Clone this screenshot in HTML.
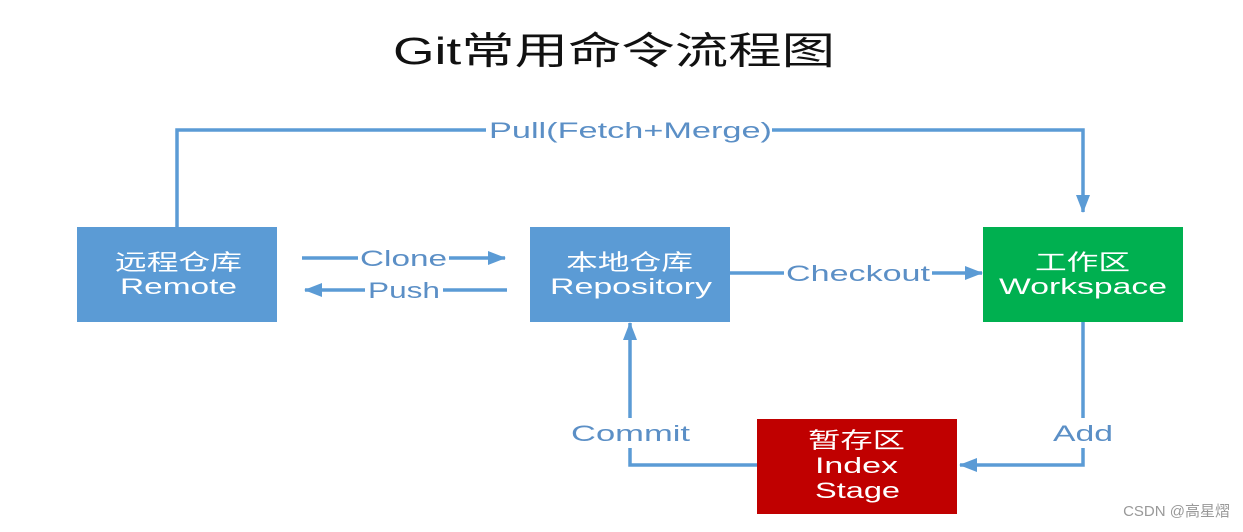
<!DOCTYPE html>
<html><head><meta charset="utf-8"><style>
body{margin:0;background:#fff;}
svg text{font-family:"Liberation Sans","Noto Sans CJK SC",sans-serif;}
</style></head><body>
<svg width="1243" height="527" viewBox="0 0 1243 527" xmlns="http://www.w3.org/2000/svg">
<defs><marker id="b" markerWidth="18" markerHeight="14" refX="17" refY="7" orient="auto" markerUnits="userSpaceOnUse"><path d="M0,0 L18,7 L0,14 Z" fill="#5b9bd5"/></marker></defs>
<text x="393" y="64" font-size="38" textLength="442" lengthAdjust="spacingAndGlyphs" fill="#111">Git常用命令流程图</text>
<g stroke="#5b9bd5" stroke-width="3.5" fill="none">
<polyline points="177,227 177,130 1083,130 1083,212" marker-end="url(#b)"/>
<line x1="302" y1="258" x2="505" y2="258" marker-end="url(#b)"/>
<line x1="507" y1="290" x2="305" y2="290" marker-end="url(#b)"/>
<line x1="730" y1="273" x2="982" y2="273" marker-end="url(#b)"/>
<polyline points="1083,321 1083,465 960,465" marker-end="url(#b)"/>
<polyline points="757,465 630,465 630,323" marker-end="url(#b)"/>
</g>
<g font-size="22" fill="#5b8fc6" lengthAdjust="spacingAndGlyphs">
<rect x="486" y="116" width="286" height="28" fill="#fff"/>
<text x="489" y="138" textLength="283" lengthAdjust="spacingAndGlyphs">Pull(Fetch+Merge)</text>
<rect x="358" y="245" width="91" height="26" fill="#fff"/>
<text x="360" y="266" textLength="87" lengthAdjust="spacingAndGlyphs">Clone</text>
<rect x="365" y="277" width="78" height="26" fill="#fff"/>
<text x="368" y="298" textLength="72" lengthAdjust="spacingAndGlyphs">Push</text>
<rect x="784" y="260" width="148" height="26" fill="#fff"/>
<text x="786" y="281" textLength="144" lengthAdjust="spacingAndGlyphs">Checkout</text>
<rect x="566" y="418" width="130" height="30" fill="#fff"/>
<text x="571" y="441" textLength="119" lengthAdjust="spacingAndGlyphs">Commit</text>
<rect x="1050" y="418" width="66" height="30" fill="#fff"/>
<text x="1053" y="441" textLength="60" lengthAdjust="spacingAndGlyphs">Add</text>
</g>
<rect x="77" y="227" width="200" height="95" fill="#5b9bd5"/>
<rect x="530" y="227" width="200" height="95" fill="#5b9bd5"/>
<rect x="983" y="227" width="200" height="95" fill="#00b050"/>
<rect x="757" y="419" width="200" height="95" fill="#c00000"/>
<g font-size="22" fill="#fff">
<text x="115" y="270" textLength="127" lengthAdjust="spacingAndGlyphs">远程仓库</text>
<text x="120" y="294" textLength="117" lengthAdjust="spacingAndGlyphs">Remote</text>
<text x="566" y="270" textLength="127" lengthAdjust="spacingAndGlyphs">本地仓库</text>
<text x="550" y="294" textLength="162" lengthAdjust="spacingAndGlyphs">Repository</text>
<text x="1035" y="270" textLength="95" lengthAdjust="spacingAndGlyphs">工作区</text>
<text x="999" y="294" textLength="168" lengthAdjust="spacingAndGlyphs">Workspace</text>
<text x="808" y="448" textLength="97" lengthAdjust="spacingAndGlyphs">暂存区</text>
<text x="815" y="473" textLength="83" lengthAdjust="spacingAndGlyphs">Index</text>
<text x="815" y="498" textLength="85" lengthAdjust="spacingAndGlyphs">Stage</text>
</g>
<text x="1230" y="516" font-size="15" fill="#999" text-anchor="end">CSDN @高星熠</text>
</svg>
</body></html>
